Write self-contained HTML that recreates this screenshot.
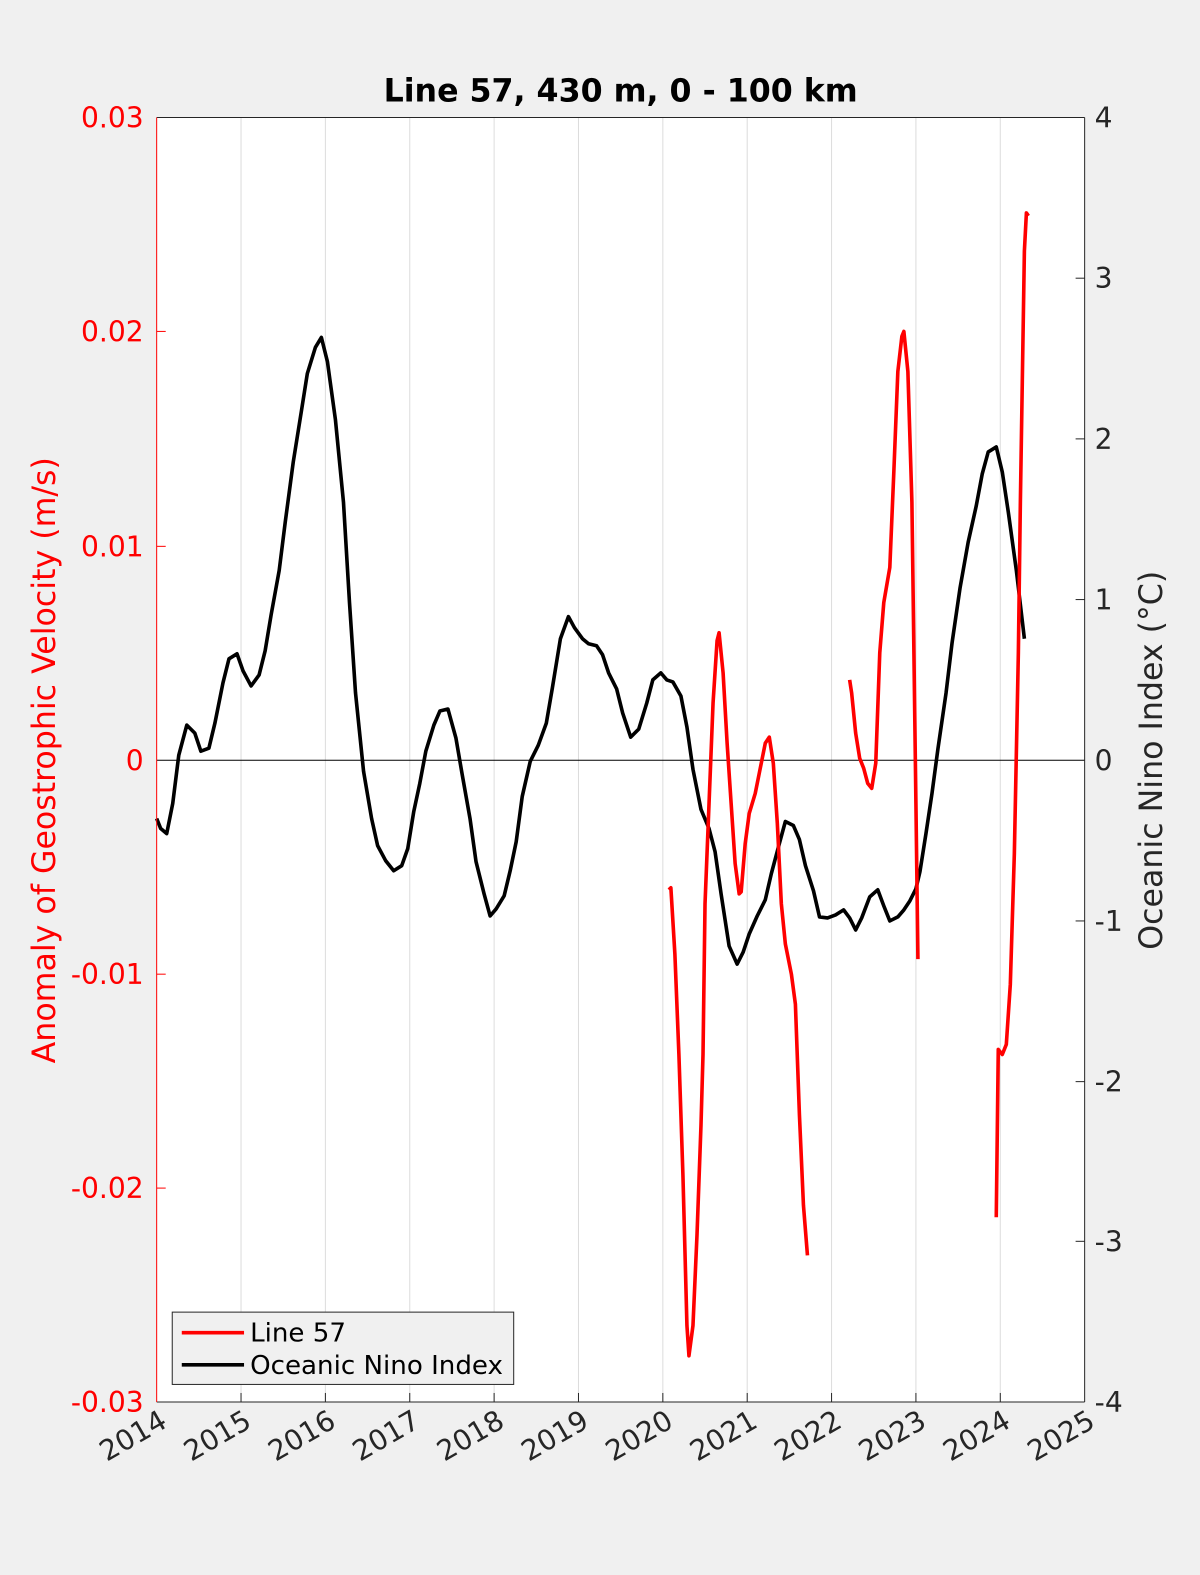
<!DOCTYPE html>
<html><head><meta charset="utf-8"><style>
body{margin:0;background:#f0f0f0;}
svg{display:block;font-family:"DejaVu Sans","Liberation Sans",sans-serif;}
</style></head><body>
<svg width="1200" height="1575" viewBox="0 0 1200 1575" xmlns="http://www.w3.org/2000/svg">
<rect width="1200" height="1575" fill="#f0f0f0"/>
<g transform="scale(1.0043)">
<rect x="156" y="117" width="924" height="1279" fill="#fff"/>
<g stroke="#dcdcdc" stroke-width="1">
<line x1="240" y1="117" x2="240" y2="1396"/><line x1="324" y1="117" x2="324" y2="1396"/>
<line x1="408" y1="117" x2="408" y2="1396"/><line x1="492" y1="117" x2="492" y2="1396"/>
<line x1="576" y1="117" x2="576" y2="1396"/><line x1="660" y1="117" x2="660" y2="1396"/>
<line x1="744" y1="117" x2="744" y2="1396"/><line x1="828" y1="117" x2="828" y2="1396"/>
<line x1="912" y1="117" x2="912" y2="1396"/><line x1="996" y1="117" x2="996" y2="1396"/>
</g>
<line x1="156" y1="757" x2="1080" y2="757" stroke="#000" stroke-width="1"/>
<polyline fill="none" stroke="#000" stroke-width="3.6" stroke-linejoin="round" points="156,815 160,825 166,830 172,800 178,752 186,722 194,730 200,748 208,745 214,720 222,680 228,656 236,651 242,668 250,683 258,672 264,648 270,612 278,568 284,520 292,460 300,410 306,372 314,346 320,336 326,360 334,418 342,500 348,600 354,690 362,768 370,815 376,842 384,857 392,867 400,862 406,845 412,808 418,780 424,748 432,722 438,708 446,706 454,735 460,770 468,815 474,858 482,890 488,912 494,905 502,892 508,867 514,838 520,793 528,758 536,742 544,720 550,685 558,636 566,614 572,625 580,636 586,641 594,643 600,652 606,670 614,686 620,710 628,734 636,726 644,700 650,677 658,670 664,677 670,679 678,693 684,724 690,766 698,806 706,825 712,848 718,890 726,942 734,960 740,948 746,930 754,912 762,896 768,870 776,840 782,818 790,822 796,836 802,862 810,887 816,913 824,914 832,911 840,906 846,914 852,926 858,914 866,893 874,886 880,902 886,917 894,913 900,906 906,897 912,885 916,868 922,830 928,790 934,745 942,690 948,640 956,585 964,540 972,504 978,472 984,450 992,445 998,470 1004,510 1012,568 1020,636"/>
<g fill="none" stroke="#f00" stroke-width="3.6" stroke-linejoin="round">
<polyline points="666,886 668,884 672,950 676,1050 680,1170 684,1320 686,1350 690,1320 694,1230 698,1120 700,1050 702,900 706,800 710,700 714,638 716,630 720,670 724,740 728,800 732,860 736,890 738,888 742,840 746,810 752,790 756,770 762,740 766,734 770,760 774,820 778,900 782,940 788,970 792,1000 796,1110 800,1200 804,1250"/>
<polyline points="846,677 848,690 852,730 856,755 860,765 864,780 868,785 872,760 876,650 880,600 886,565 890,470 894,370 898,335 900,330 904,370 908,500 910,650 912,800 914,955"/>
<polyline points="992,1212 994,1045 998,1050 1002,1040 1006,980 1010,850 1014,650 1016,500 1020,250 1022,212 1024,215"/>
</g>
<line x1="156" y1="117" x2="1080" y2="117" stroke="#262626"/>
<line x1="156" y1="1396" x2="1080" y2="1396" stroke="#262626"/>
<line x1="1080" y1="117" x2="1080" y2="1396" stroke="#262626"/>
<line x1="156" y1="117" x2="156" y2="1396" stroke="#f00"/>
<g stroke="#262626">
<line x1="240" y1="1396" x2="240" y2="1387"/><line x1="324" y1="1396" x2="324" y2="1387"/><line x1="408" y1="1396" x2="408" y2="1387"/><line x1="492" y1="1396" x2="492" y2="1387"/><line x1="576" y1="1396" x2="576" y2="1387"/><line x1="660" y1="1396" x2="660" y2="1387"/><line x1="744" y1="1396" x2="744" y2="1387"/><line x1="828" y1="1396" x2="828" y2="1387"/><line x1="912" y1="1396" x2="912" y2="1387"/><line x1="996" y1="1396" x2="996" y2="1387"/>
<line x1="1080" y1="277" x2="1071" y2="277"/><line x1="1080" y1="437" x2="1071" y2="437"/><line x1="1080" y1="597" x2="1071" y2="597"/><line x1="1080" y1="917" x2="1071" y2="917"/><line x1="1080" y1="1077" x2="1071" y2="1077"/><line x1="1080" y1="1236" x2="1071" y2="1236"/>
</g>
<g stroke="#f00">
<line x1="156" y1="330" x2="165" y2="330"/><line x1="156" y1="544" x2="165" y2="544"/><line x1="156" y1="970" x2="165" y2="970"/><line x1="156" y1="1183" x2="165" y2="1183"/>
</g>
<g fill="#f00" font-size="28" text-anchor="end">
<text x="143" y="127">0.03</text><text x="143" y="340">0.02</text><text x="143" y="554">0.01</text><text x="143" y="767">0</text><text x="143" y="980">-0.01</text><text x="143" y="1193">-0.02</text><text x="143" y="1406">-0.03</text>
</g>
<g fill="#262626" font-size="28">
<text x="1090" y="127">4</text><text x="1090" y="287">3</text><text x="1090" y="447">2</text><text x="1090" y="607">1</text><text x="1090" y="767">0</text><text x="1090" y="927">-1</text><text x="1090" y="1087">-2</text><text x="1090" y="1246">-3</text><text x="1090" y="1406">-4</text>
</g>
<g fill="#262626" font-size="28" text-anchor="end">
<text transform="translate(168,1420) rotate(-30)">2014</text>
<text transform="translate(252,1420) rotate(-30)">2015</text>
<text transform="translate(336,1420) rotate(-30)">2016</text>
<text transform="translate(420,1420) rotate(-30)">2017</text>
<text transform="translate(504,1420) rotate(-30)">2018</text>
<text transform="translate(588,1420) rotate(-30)">2019</text>
<text transform="translate(672,1420) rotate(-30)">2020</text>
<text transform="translate(756,1420) rotate(-30)">2021</text>
<text transform="translate(840,1420) rotate(-30)">2022</text>
<text transform="translate(924,1420) rotate(-30)">2023</text>
<text transform="translate(1008,1420) rotate(-30)">2024</text>
<text transform="translate(1092,1420) rotate(-30)">2025</text>
</g>
<text x="618" y="101" font-size="31.5" font-weight="bold" text-anchor="middle">Line 57, 430 m, 0 - 100 km</text>
<text transform="translate(55,757) rotate(-90)" fill="#f00" font-size="31.5" text-anchor="middle">Anomaly of Geostrophic Velocity (m/s)</text>
<text transform="translate(1157,757) rotate(-90)" fill="#262626" font-size="31.5" text-anchor="middle">Oceanic Nino Index (°C)</text>
<rect x="171.5" y="1306.5" width="340" height="72" fill="#f0f0f0" stroke="#262626"/>
<line x1="181" y1="1327" x2="243" y2="1327" stroke="#f00" stroke-width="3.6"/>
<line x1="181" y1="1359" x2="243" y2="1359" stroke="#000" stroke-width="3.6"/>
<text x="249" y="1336" font-size="26" fill="#000">Line 57</text>
<text x="249" y="1368" font-size="26" fill="#000">Oceanic Nino Index</text>
</g>
</svg>
</body></html>
